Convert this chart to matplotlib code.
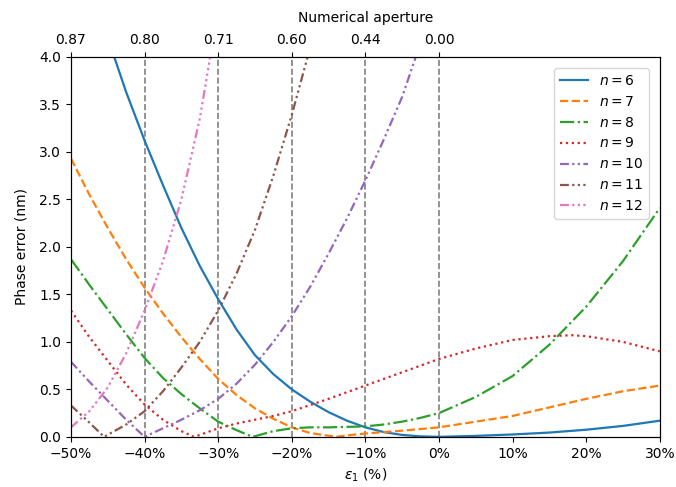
import numpy as np
import matplotlib
matplotlib.use("Agg")
import matplotlib.pyplot as plt

# strain (%) and phase error (nm), one set per n
eps_n6 = [-45, -42.5, -40, -37.5, -35, -32.5, -30, -27.5, -25, -22.5, -20, -17.5, -15, -12.5,
          -10, -7.5, -5, -2.5, 0, 5, 10, 15, 20, 25, 30]
err_n6 = [4.2, 3.63, 3.12, 2.65, 2.2, 1.8, 1.45, 1.13, 0.86, 0.66, 0.5, 0.37, 0.26, 0.17,
          0.1, 0.05, 0.02, 0.005, 0.0, 0.01, 0.025, 0.045, 0.075, 0.115, 0.17]

eps_n7 = [-50, -47.5, -45, -42.5, -40, -37.5, -35, -32.5, -30, -27.5, -25, -22.5, -20, -17.5,
          -14, -12.5, -10, -5, 0, 5, 10, 15, 20, 25, 30]
err_n7 = [2.93, 2.55, 2.2, 1.87, 1.57, 1.3, 1.05, 0.82, 0.61, 0.44, 0.3, 0.19, 0.1, 0.04,
          0.0, 0.015, 0.035, 0.065, 0.1, 0.16, 0.22, 0.31, 0.4, 0.48, 0.54]

eps_n8 = [-50, -47.5, -45, -42.5, -40, -37.5, -35, -32.5, -30, -27.5, -25.3, -22.5, -20, -17.5,
          -15, -12.5, -10, -7.5, -5, -2.5, 0, 5, 10, 15, 20, 25, 30]
err_n8 = [1.87, 1.6, 1.34, 1.08, 0.83, 0.62, 0.45, 0.3, 0.16, 0.07, 0.0, 0.06, 0.09, 0.1,
          0.1, 0.105, 0.11, 0.13, 0.16, 0.2, 0.25, 0.42, 0.64, 0.97, 1.37, 1.85, 2.41]

eps_n9 = [-50, -47.5, -45, -42.5, -40, -37.5, -35, -33.3, -32.5, -30, -27.5, -25, -22.5, -20,
          -15, -10, -5, 0, 5, 10, 15, 18, 20, 25, 30]
err_n9 = [1.33, 1.05, 0.8, 0.55, 0.34, 0.18, 0.06, 0.0, 0.02, 0.09, 0.14, 0.18, 0.22, 0.27,
          0.4, 0.54, 0.68, 0.82, 0.93, 1.02, 1.06, 1.07, 1.06, 1.0, 0.9]

eps_n10 = [-50, -47.5, -45, -42.5, -40, -37.5, -35, -32.5, -30, -27.5, -25, -22.5, -20, -17.5,
           -15, -12.5, -10, -7.5, -5, -2.5]
err_n10 = [0.79, 0.58, 0.38, 0.18, 0.0, 0.09, 0.18, 0.28, 0.4, 0.56, 0.76, 1.0, 1.27, 1.58,
           1.93, 2.3, 2.7, 3.13, 3.58, 4.15]

eps_n11 = [-50, -47.5, -45.5, -42.5, -40, -37.5, -35, -32.5, -30, -27.5, -25, -22.5, -20, -17.5]
err_n11 = [0.33, 0.15, 0.0, 0.13, 0.27, 0.48, 0.73, 1.0, 1.33, 1.72, 2.18, 2.75, 3.39, 4.1]

eps_n12 = [-50, -47.5, -45, -42.5, -40, -37.5, -35, -32.5, -30]
err_n12 = [0.1, 0.27, 0.52, 0.88, 1.33, 1.85, 2.5, 3.35, 4.5]

na_ticks = [-50, -40, -30, -20, -10, 0]
na_labels = ["0.87", "0.80", "0.71", "0.60", "0.44", "0.00"]

dash = (4, 1.5)
dot = (1, 1.5)
series = [
    (6, eps_n6, err_n6, "-"),
    (7, eps_n7, err_n7, "--"),
    (8, eps_n8, err_n8, "-."),
    (9, eps_n9, err_n9, ":"),
    (10, eps_n10, err_n10, (0, dash + dot * 2)),
    (11, eps_n11, err_n11, (0, dash + dot * 3)),
    (12, eps_n12, err_n12, (0, dash + dot * 5)),
]

fig = plt.figure(figsize=(6.76, 4.87), dpi=100)
ax = fig.add_axes([0.105, 0.103, 0.871, 0.780])

for x in na_ticks:
    ax.axvline(x, color="gray", linestyle="--", linewidth=1.2, zorder=1)

for i, (n, eps, err, ls) in enumerate(series):
    ax.plot(eps, err, color=f"C{i}", linestyle=ls, linewidth=1.6, label=f"$n = {n}$", zorder=2)

ax.set_xlim(-50, 30)
ax.set_ylim(0, 4)
ax.set_xticks(np.arange(-50, 31, 10))
ax.set_xticklabels([f"{v}%".replace("-", "\u2212") for v in range(-50, 31, 10)])
ax.set_yticks(np.arange(0, 4.01, 0.5))
ax.set_xlabel(r"$\epsilon_1$ (%)")
ax.set_ylabel("Phase error (nm)", labelpad=8)
ax.legend(loc="upper right", borderaxespad=0.8)

top = ax.twiny()
top.set_xlim(ax.get_xlim())
top.set_xticks(na_ticks)
top.set_xticklabels(na_labels)
top.set_xlabel("Numerical aperture", labelpad=8)

fig.savefig("out.png", dpi=100)
